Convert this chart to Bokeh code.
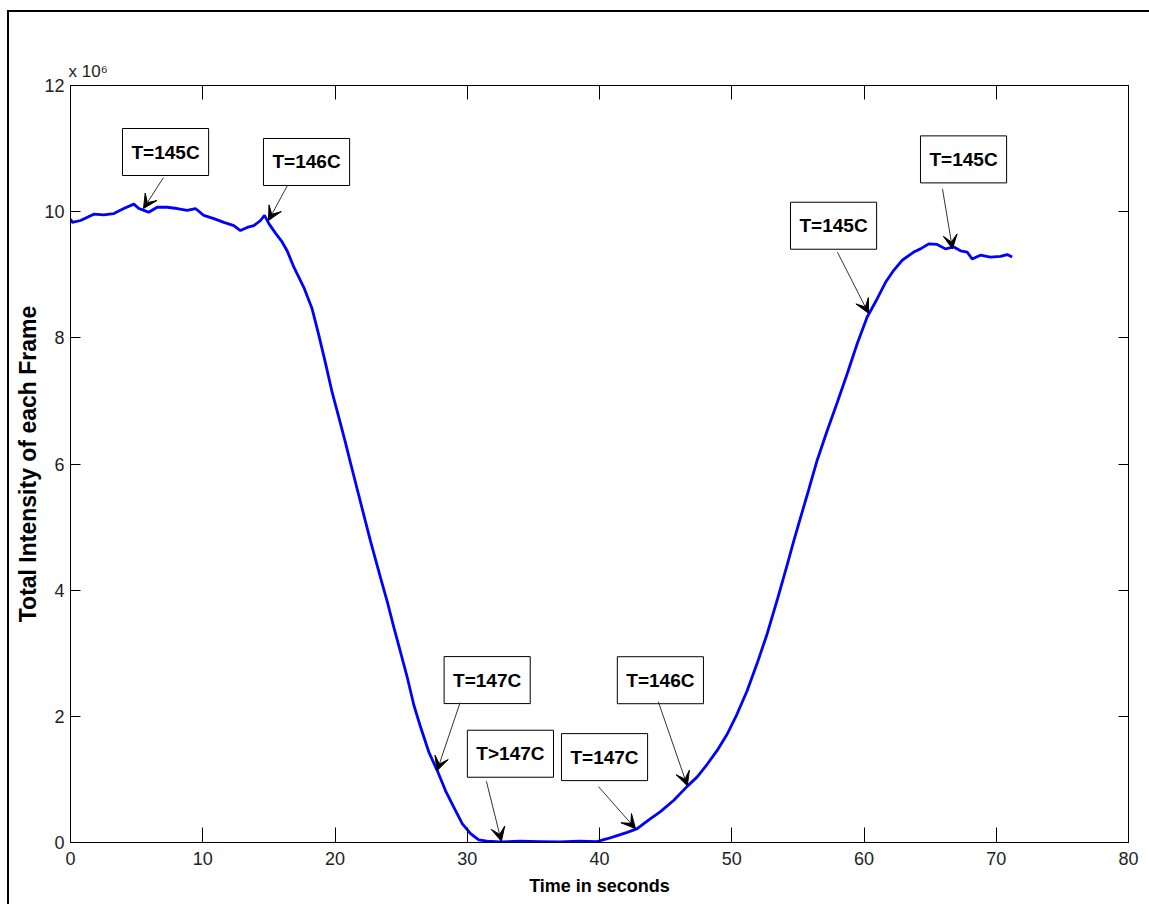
from bokeh.plotting import figure
from bokeh.models import Range1d, FixedTicker, LinearAxis, Label, Arrow, VeeHead, ColumnDataSource
from bokeh.embed import file_html
from bokeh.resources import INLINE

# ---- data (intensity in units of 1e6) ----
time_s = [0.0, 0.13, 0.76, 1.76, 2.52, 3.28, 4.03, 4.79, 5.17, 5.55, 5.92, 6.55, 7.31,
          8.07, 8.82, 9.45, 10.08, 10.84, 11.6, 12.35, 12.85, 13.36, 13.86, 14.37, 14.67,
          15.0, 15.5, 16.0, 16.38, 16.89, 17.64, 18.27, 18.78, 19.28, 19.79, 20.29, 20.79,
          21.17, 21.68, 22.18, 22.68, 23.44, 23.95, 24.45, 24.95, 25.46, 25.96, 26.47, 27.1,
          27.73, 28.36, 28.98, 29.62, 30.25, 30.87, 31.5, 32.5, 34.0, 35.5, 37.0, 38.5,
          39.8, 40.6, 41.34, 42.1, 42.85, 43.73, 44.61, 45.62, 46.63, 47.39, 48.14, 48.9,
          49.66, 50.41, 51.17, 51.92, 52.68, 53.43, 54.19, 54.69, 55.2, 55.83, 56.46, 57.22,
          57.97, 58.73, 59.49, 60.24, 61.0, 61.63, 62.25, 62.89, 63.76, 64.27, 64.9, 65.53,
          66.16, 66.79, 67.3, 67.8, 68.18, 68.8, 69.56, 70.32, 70.83, 71.2]
intensity = [9.88, 9.83, 9.86, 9.96, 9.95, 9.97, 10.05, 10.12, 10.05, 10.02, 9.99, 10.07, 10.07,
             10.05, 10.02, 10.05, 9.94, 9.89, 9.83, 9.78, 9.70, 9.75, 9.78, 9.86, 9.94,
             9.81, 9.66, 9.52, 9.38, 9.12, 8.80, 8.46, 8.04, 7.60, 7.13, 6.74, 6.34,
             6.02, 5.60, 5.19, 4.78, 4.20, 3.82, 3.41, 3.02, 2.62, 2.18, 1.83, 1.43,
             1.14, 0.82, 0.56, 0.30, 0.14, 0.04, 0.02, 0.01, 0.02, 0.015, 0.01, 0.02,
             0.015, 0.06, 0.11, 0.16, 0.22, 0.36, 0.49, 0.67, 0.89, 1.04, 1.24, 1.46,
             1.72, 2.04, 2.41, 2.84, 3.31, 3.84, 4.40, 4.78, 5.15, 5.60, 6.06, 6.53,
             6.97, 7.43, 7.91, 8.33, 8.62, 8.88, 9.07, 9.23, 9.36, 9.41, 9.49, 9.48,
             9.41, 9.44, 9.38, 9.36, 9.25, 9.31, 9.28, 9.29, 9.32, 9.28]

x_ticks = [0, 10, 20, 30, 40, 50, 60, 70, 80]
y_ticks = [0, 2, 4, 6, 8, 10, 12]

# annotations: label text and the curve point each arrow points to
ann_labels = ["T=145C", "T=146C", "T=147C", "T>147C", "T=147C", "T=146C", "T=145C", "T=145C"]
ann_x = [5.52, 14.97, 27.72, 32.58, 42.72, 46.64, 60.34, 66.69]
ann_y = [10.05, 9.86, 1.14, 0.02, 0.22, 0.90, 8.39, 9.41]

# ---- layout (pixel offsets of box top-left and arrow start, relative to the tip) ----
box_off = [(-21, -80), (-5, -82), (7, -114), (-34, -111), (-74, -95), (-70, -129), (-78, -111), (-32, -113)]
start_off = [(20, -31), (19, -35), (23, -68), (-15, -60), (-37, -42), (-29, -84), (-31, -61), (-10, -60)]

FW, FH = 1058, 757
X0, X1, Y0, Y1 = 0, 80, 0, 12
sx = FW / (X1 - X0)
sy = FH / (Y1 - Y0)

p = figure(frame_width=FW, frame_height=FH, x_range=Range1d(X0, X1), y_range=Range1d(Y0, Y1),
           output_backend="svg", toolbar_location=None,
           min_border_left=61, min_border_right=21, min_border_top=73, min_border_bottom=62)
p.styles = {"border-left": "2px solid black", "border-top": "2px solid black",
            "border-right": "0px none white", "border-bottom": "0px none white",
            "margin-left": "7px", "margin-top": "10px"}
p.grid.visible = False
p.outline_line_color = "black"
p.outline_line_width = 1
p.background_fill_color = "white"
p.border_fill_color = "white"

TICK_FONT = "Liberation Sans"

p.title.text = "x 10\u2076"
p.title.align = "left"
p.title.offset = -2
p.title.text_font = TICK_FONT
p.title.text_font_size = "17px"
p.title.text_font_style = "normal"
p.title.text_color = "#222222"
p.title.standoff = 10

for ax, ticks, tin in ((p.xaxis[0], x_ticks, 15), (p.yaxis[0], y_ticks, 10)):
    ax.ticker = FixedTicker(ticks=ticks)
    ax.major_tick_in = tin
    ax.major_tick_out = 0
    ax.minor_tick_line_color = None
    ax.axis_line_color = "black"
    ax.major_tick_line_color = "black"
    ax.major_label_text_font = TICK_FONT
    ax.major_label_text_font_size = "18px"
    ax.major_label_text_color = "#222222"
    ax.axis_label_text_font = "Liberation Sans"
    ax.axis_label_text_font_style = "bold"
    ax.axis_label_text_color = "black"

p.xaxis.axis_label = "Time in seconds"
p.xaxis.axis_label_text_font_size = "18px"
p.xaxis.major_label_standoff = 9
p.xaxis.axis_label_standoff = 8
p.yaxis.axis_label = "Total Intensity of each Frame"
p.yaxis.axis_label_text_font_size = "23px"
p.yaxis.major_label_standoff = 6
p.yaxis.axis_label_standoff = 0

top_ax = LinearAxis(ticker=FixedTicker(ticks=x_ticks), major_tick_in=14, major_tick_out=0,
                    minor_tick_line_color=None, major_label_text_font_size="0px",
                    axis_line_color="black", major_label_standoff=0)
right_ax = LinearAxis(ticker=FixedTicker(ticks=y_ticks), major_tick_in=10, major_tick_out=0,
                      minor_tick_line_color=None, major_label_text_font_size="0px",
                      axis_line_color="black", major_label_standoff=0)
p.add_layout(top_ax, "above")
p.add_layout(right_ax, "right")

src = ColumnDataSource(dict(t=time_s, v=intensity))
p.line("t", "v", source=src, line_color="#0000FF", line_width=2.8)

for lab, tx, ty, (bdx, bdy), (adx, ady) in zip(ann_labels, ann_x, ann_y, box_off, start_off):
    bx = tx + bdx / sx
    by = ty - bdy / sy
    p.add_layout(Label(x=bx, y=by, text=lab, text_font="Liberation Sans",
                       text_font_style="bold", text_font_size="19px", text_color="black",
                       text_align="left", text_baseline="top",
                       background_fill_color="white", border_line_color="black",
                       border_line_width=1, padding=(9, 13)))
    p.add_layout(Arrow(x_start=tx + adx / sx, y_start=ty - ady / sy, x_end=tx, y_end=ty,
                       line_color="#333333", line_width=1,
                       end=VeeHead(size=14, fill_color="black", line_color="black")))

open("out.html", "w").write(file_html(p, INLINE))
